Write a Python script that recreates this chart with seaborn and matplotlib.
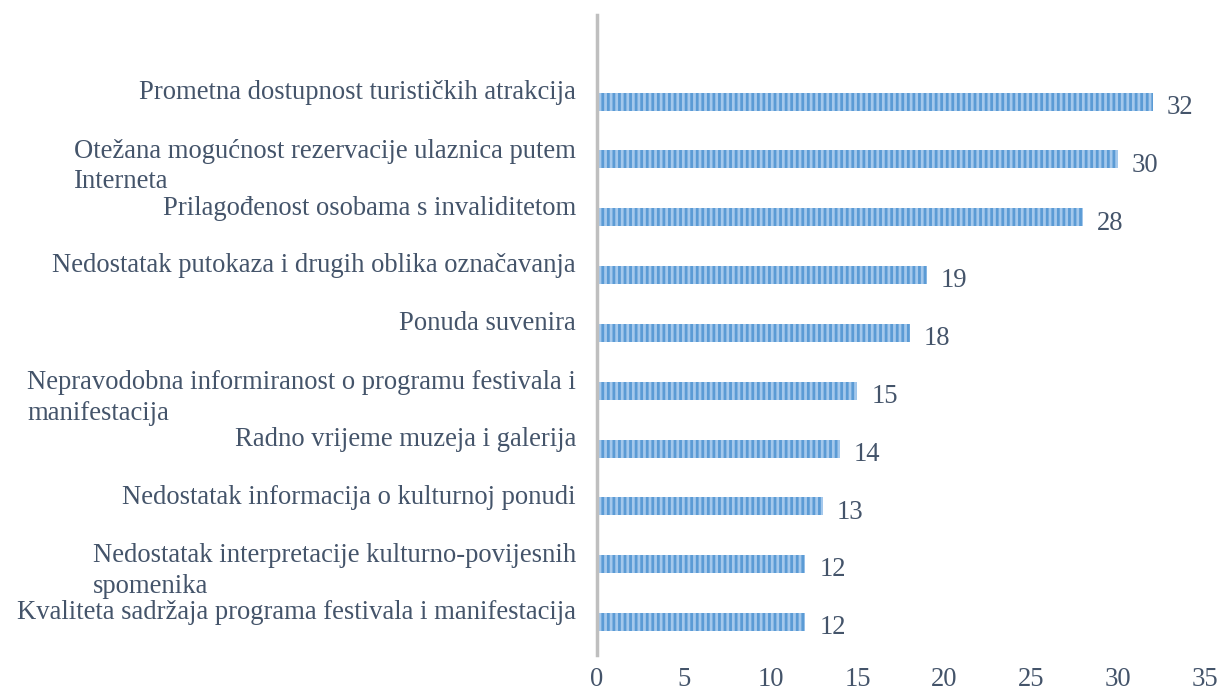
import seaborn as sns
import matplotlib.pyplot as plt

# categories from top to bottom, as in the source chart
categories = [
    'Prometna dostupnost turističkih atrakcija',
    'Otežana mogućnost rezervacije ulaznica putem\nInterneta',
    'Prilagođenost osobama s invaliditetom',
    'Nedostatak putokaza i drugih oblika označavanja',
    'Ponuda suvenira',
    'Nepravodobna informiranost o programu festivala i\nmanifestacija',
    'Radno vrijeme muzeja i galerija',
    'Nedostatak informacija o kulturnoj ponudi',
    'Nedostatak interpretacije kulturno-povijesnih\nspomenika',
    'Kvaliteta sadržaja programa festivala i manifestacija',
]
counts = [32, 30, 28, 19, 18, 15, 14, 13, 12, 12]
x_ticks = [0, 5, 10, 15, 20, 25, 30, 35]

text_color = '#44546A'
fs = 19.2

sns.set_theme(style='white')
plt.rcParams['font.family'] = ['Liberation Serif', 'DejaVu Serif']
plt.rcParams['hatch.linewidth'] = 2.0

fig = plt.figure(figsize=(12.22, 6.92), dpi=100)
ax = fig.add_axes([0.4885, 0.0535, 0.4975, 0.925])

sns.barplot(x=counts, y=list(range(len(categories))), orient='h', ax=ax,
            color='#A4C8EC', width=0.31, saturation=1, native_scale=True)

# vertical stripe look of the original bars
for bar in ax.patches:
    bar.set_hatch('|||')
    bar.set_edgecolor('#5B9BD5')
    bar.set_linewidth(0)

# value labels to the right of each bar
for i, v in enumerate(counts):
    ax.text(v + 0.8, i + 0.1, str(v), va='center', ha='left',
            fontsize=fs, color=text_color)

# category labels, right aligned block but left aligned lines
ax.set_yticks(range(len(categories)))
ax.set_yticklabels([])
for i, cat in enumerate(categories):
    dy = 0.12 if '\n' in cat else -0.16
    ax.text(-1.2, i + dy, cat, ha='right', va='center', multialignment='left',
            fontsize=fs, color=text_color, linespacing=1.3)

ax.set_xlim(0, 35)
ax.set_ylim(9.57, -1.5)
ax.set_xticks(x_ticks)
ax.set_xticklabels([str(t) for t in x_ticks], fontsize=fs, color=text_color)
ax.tick_params(axis='x', length=0, pad=9)
ax.tick_params(axis='y', length=0)

for side in ['top', 'right', 'bottom']:
    ax.spines[side].set_visible(False)
ax.spines['left'].set_color('#BFBFBF')
ax.spines['left'].set_linewidth(2.5)

ax.set_xlabel('')
ax.set_ylabel('')
fig.savefig('out.png', dpi=100)
